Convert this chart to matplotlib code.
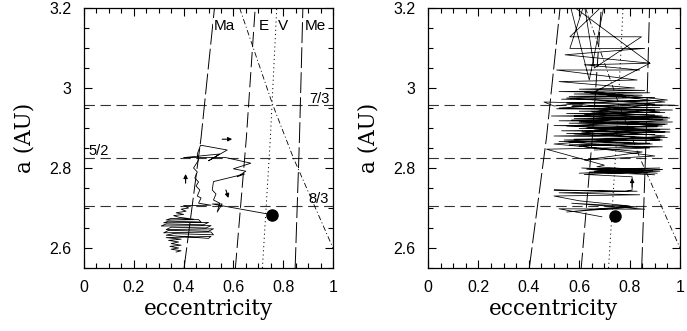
import matplotlib
matplotlib.use("Agg")
import matplotlib.pyplot as plt
from matplotlib.ticker import MultipleLocator, FixedLocator, FixedFormatter

plt.rcParams['lines.scale_dashes'] = False
plt.rcParams['font.family'] = ['Liberation Sans', 'DejaVu Sans']

# ---------------- data ----------------
x_ticks = [0, 0.2, 0.4, 0.6, 0.8, 1.0]
x_tick_labels = ["0", "0.2", "0.4", "0.6", "0.8", "1"]
y_ticks = [2.6, 2.8, 3.0, 3.2]
y_tick_labels = ["2.6", "2.8", "3", "3.2"]

# mean-motion resonances (a in AU)
res_a = [2.958, 2.825, 2.705]
res_labels = ["7/3", "5/2", "8/3"]
res_label_e = [0.944, 0.059, 0.944]
res_label_a = [2.972, 2.842, 2.722]

# planet-crossing curves (e, a)
ma_e = [0.402, 0.470, 0.524]
ma_a = [2.55, 2.875, 3.2]
ea_e = [0.608, 0.652, 0.6875]
ea_a = [2.55, 2.875, 3.2]
ve_e = [0.7165, 0.7485, 0.774]
ve_a = [2.55, 2.875, 3.2]
me_e = [0.848, 0.8654, 0.879]
me_a = [2.55, 2.875, 3.2]
ju_e = [0.625, 0.758, 0.841, 1.0]
ju_a = [3.2, 2.958, 2.825, 2.6]

planet_labels = ["Ma", "E", "V", "Me"]
planet_label_e = [0.565, 0.722, 0.800, 0.928]
planet_label_a = [3.155, 3.155, 3.155, 3.155]

# left panel trajectory
left_e = [0.37, 0.39, 0.35, 0.38, 0.345, 0.39, 0.35, 0.38, 0.34, 0.39, 0.33,
          0.51, 0.50, 0.33, 0.36, 0.52, 0.51, 0.32, 0.34, 0.50, 0.52, 0.33,
          0.35, 0.49, 0.51, 0.31, 0.33, 0.48, 0.50, 0.32, 0.34, 0.47,
          0.46, 0.33, 0.35, 0.44, 0.38, 0.36, 0.40, 0.37, 0.41, 0.39,
          0.42, 0.40, 0.51,
          0.46, 0.47, 0.455, 0.465, 0.45, 0.46, 0.445, 0.455, 0.44, 0.45, 0.46, 0.455, 0.468,
          0.575, 0.50, 0.545, 0.40, 0.57,
          0.67, 0.60, 0.65, 0.615, 0.645, 0.52,
          0.515, 0.53, 0.52, 0.545, 0.535, 0.555, 0.515,
          0.756]
left_a = [2.590, 2.593, 2.597, 2.600, 2.604, 2.607, 2.611, 2.615, 2.619, 2.622, 2.626,
          2.629, 2.624, 2.632, 2.636, 2.633, 2.640, 2.638, 2.644, 2.642, 2.648, 2.646,
          2.652, 2.650, 2.656, 2.655, 2.660, 2.658, 2.664, 2.663, 2.667, 2.665,
          2.671, 2.670, 2.674, 2.672, 2.677, 2.681, 2.684, 2.688, 2.692, 2.697,
          2.700, 2.706, 2.707,
          2.712, 2.725, 2.730, 2.745, 2.755, 2.765, 2.775, 2.790, 2.800, 2.810, 2.820, 2.835, 2.857,
          2.845, 2.818, 2.835, 2.826, 2.826,
          2.812, 2.798, 2.792, 2.778, 2.785, 2.766,
          2.745, 2.735, 2.720, 2.712, 2.690, 2.710, 2.710,
          2.683]

# right panel trajectory
right_e = [0.69, 0.52, 0.86, 0.57, 0.83, 0.55, 0.80,
           0.60, 0.50, 0.84, 0.52, 0.83, 0.50, 0.78, 0.81,
           0.81, 0.62, 0.92, 0.60, 0.93, 0.64, 0.90, 0.63, 0.92, 0.66, 0.91, 0.61, 0.89, 0.67,
           0.70, 0.47, 0.93, 0.56, 0.88, 0.52, 0.92, 0.58, 0.95, 0.50, 0.90, 0.55, 0.94,
           0.53, 0.96, 0.60, 0.91, 0.50, 0.94, 0.56, 0.97, 0.52, 0.93, 0.58, 0.95,
           0.49, 0.90, 0.55, 0.94, 0.60, 0.97, 0.51, 0.92, 0.57, 0.98, 0.46, 0.50,
           0.63, 0.88, 0.53, 0.90, 0.56, 0.85, 0.58, 0.88, 0.52, 0.86, 0.60, 0.82,
           0.52, 0.83, 0.51, 0.84, 0.62, 0.881, 0.544, 0.86, 0.563, 0.62, 0.66, 0.847,
           0.563, 0.70, 0.64, 0.563, 0.881, 0.66,
           0.95, 0.55, 0.92, 0.62, 0.96, 0.57, 0.93, 0.63, 0.96, 0.58, 0.92, 0.54,
           0.89, 0.60, 0.90, 0.62, 0.85, 0.50, 0.94, 0.66, 0.95, 0.60, 0.93, 0.65,
           0.90, 0.55, 0.80, 0.62,
           0.94, 0.52, 0.90, 0.58, 0.95, 0.55, 0.92, 0.61, 0.93, 0.56, 0.88, 0.66]
right_a = [2.678, 2.698, 2.697, 2.712, 2.703, 2.690, 2.705,
           2.718, 2.730, 2.733, 2.738, 2.742, 2.745, 2.741, 2.745,
           2.778, 2.784, 2.792, 2.787, 2.796, 2.790, 2.783, 2.797, 2.800, 2.792, 2.787, 2.800, 2.794, 2.803,
           2.807, 2.847, 2.853, 2.858, 2.862, 2.866, 2.870, 2.872, 2.876, 2.880, 2.884, 2.886, 2.890,
           2.893, 2.897, 2.899, 2.903, 2.906, 2.909, 2.912, 2.915, 2.918, 2.921, 2.924, 2.927,
           2.930, 2.933, 2.936, 2.939, 2.942, 2.945, 2.948, 2.951, 2.954, 2.957, 2.965, 2.955,
           2.963, 2.968, 2.972, 2.976, 2.979, 2.982, 2.985, 2.988, 2.991, 2.994, 2.997, 3.000,
           3.016, 3.020, 3.045, 3.045, 3.058, 3.062, 3.083, 3.099, 3.099, 3.210, 3.050, 3.128,
           3.128, 3.210, 3.020, 3.210, 3.062, 2.990,
           2.970, 2.962, 2.940, 2.935, 2.925, 2.920, 2.905, 2.900, 2.890, 2.885, 2.875, 2.870,
           2.860, 2.855, 2.830, 2.820, 2.840, 2.860, 2.880, 2.895, 2.910, 2.915, 2.930, 2.940,
           2.960, 2.975, 2.980, 2.990,
           2.965, 2.950, 2.945, 2.930, 2.920, 2.905, 2.895, 2.890, 2.870, 2.865, 2.850, 2.845]

dot_left = (0.756, 2.683)
dot_right = (0.742, 2.680)

# arrows: (tail e, tail a, head e, head a)
arrows_left = [(0.555, 2.872, 0.595, 2.872),
               (0.408, 2.762, 0.408, 2.785),
               (0.570, 2.745, 0.580, 2.725)]
arrows_right = [(0.810, 2.752, 0.810, 2.775)]

# ---------------- figure ----------------
W, H = 687, 331
fig = plt.figure(figsize=(W / 100, H / 100), dpi=100)
ax_l = fig.add_axes([84 / W, 1 - 268 / H, 249 / W, 260 / H])
ax_r = fig.add_axes([428 / W, 1 - 268 / H, 252 / W, 260 / H])

line_kw = dict(color='k', lw=0.7)


def style(ax):
    ax.set_xlim(0, 1)
    ax.set_ylim(2.55, 3.2)
    ax.xaxis.set_major_locator(FixedLocator(x_ticks))
    ax.xaxis.set_major_formatter(FixedFormatter(x_tick_labels))
    ax.yaxis.set_major_locator(FixedLocator(y_ticks))
    ax.yaxis.set_major_formatter(FixedFormatter(y_tick_labels))
    ax.xaxis.set_minor_locator(MultipleLocator(0.05))
    ax.yaxis.set_minor_locator(MultipleLocator(0.05))
    ax.tick_params(which='both', direction='in', top=True, right=True,
                   width=0.8, labelsize=11.5, colors='k')
    ax.tick_params(which='major', length=6, pad=9)
    ax.tick_params(which='minor', length=3.5)
    for s in ax.spines.values():
        s.set_linewidth(0.9)
    ax.set_xlabel("eccentricity", family='DejaVu Serif', fontsize=15.5, labelpad=2)
    ax.set_ylabel("a (AU)", family='DejaVu Serif', fontsize=15.5, labelpad=10)

    for a in res_a:
        ax.axhline(a, color='0.2', lw=0.8, dashes=(7.5, 4))
    ax.plot(ma_e, ma_a, dashes=(15, 3), **line_kw)
    ax.plot(ea_e, ea_a, dashes=(11, 3.5), **line_kw)
    ax.plot(ve_e, ve_a, dashes=(0.8, 2.2), **line_kw)
    ax.plot(me_e, me_a, dashes=(15, 3), **line_kw)
    ax.plot(ju_e, ju_a, color='k', lw=0.6, dashes=(4, 1.8, 0.8, 1.8))


style(ax_l)
style(ax_r)

# left panel
ax_l.plot(left_e, left_a, color='k', lw=0.6)
ax_l.plot(*dot_left, 'o', color='k', ms=8)
for t, e, a in zip(planet_labels, planet_label_e, planet_label_a):
    ax_l.text(e, a, t, ha='center', va='center', fontsize=11,
              bbox=dict(facecolor='white', edgecolor='none', pad=0.5))
for t, e, a in zip(res_labels, res_label_e, res_label_a):
    ax_l.text(e, a, t, ha='center', va='center', fontsize=10.5)
for e0, a0, e1, a1 in arrows_left:
    ax_l.annotate("", xy=(e1, a1), xytext=(e0, a0),
                  arrowprops=dict(arrowstyle='-|>', lw=0.8, color='k',
                                  mutation_scale=6, shrinkA=0, shrinkB=0))

# right panel
ax_r.plot(right_e, right_a, color='k', lw=0.55)
ax_r.plot(*dot_right, 'o', color='k', ms=8)
for e0, a0, e1, a1 in arrows_right:
    ax_r.annotate("", xy=(e1, a1), xytext=(e0, a0),
                  arrowprops=dict(arrowstyle='-|>', lw=0.8, color='k',
                                  mutation_scale=6, shrinkA=0, shrinkB=0))

fig.savefig("out.png", dpi=100)
